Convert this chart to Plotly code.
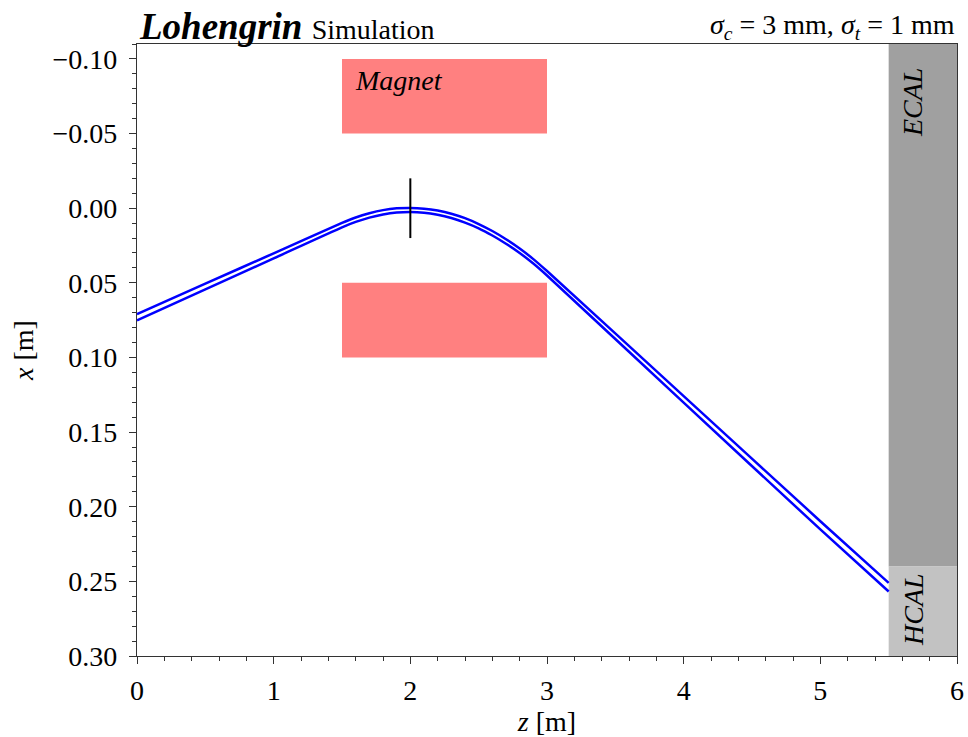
import plotly.graph_objects as go

# ---- data ----
z_traj = [0.0, 0.5, 1.0, 1.5, 1.6, 1.7, 1.8, 1.9, 2.0, 2.1, 2.2, 2.3, 2.4, 2.5, 2.6, 2.7, 2.8, 2.9, 3.0,
          4.0, 5.0, 5.5]
x_traj_a = [0.0710, 0.0506, 0.0302, 0.0098, 0.0062, 0.0034, 0.0013, 0.0001, -0.0002, 0.0003, 0.0016,
            0.0037, 0.0067, 0.0106, 0.0153, 0.0208, 0.0270, 0.0341, 0.0421, 0.1259, 0.2097, 0.2510]
x_traj_b = [0.0752, 0.0544, 0.0336, 0.0128, 0.0092, 0.0063, 0.0042, 0.0029, 0.0025, 0.0030, 0.0044,
            0.0066, 0.0097, 0.0135, 0.0183, 0.0238, 0.0300, 0.0371, 0.0451, 0.1303, 0.2152, 0.2568]

target_z = [2.0, 2.0]
target_x = [-0.02, 0.02]

magnet_z = [1.5, 3.0]
magnet_upper_x = [-0.10, -0.05]
magnet_lower_x = [0.05, 0.10]

calo_z = [5.5, 6.0]
ecal_x = [-0.11, 0.24]
hcal_x = [0.24, 0.30]

z_range = [0, 6]
x_range = [0.30, -0.11]

FONT = "Liberation Serif"
FS = 28

fig = go.Figure()

shapes = []
for xr in (magnet_upper_x, magnet_lower_x):
    shapes.append(dict(type="rect", xref="x", yref="y", x0=magnet_z[0], x1=magnet_z[1],
                       y0=xr[0], y1=xr[1], fillcolor="#FF8080", line=dict(width=0), layer="below"))
shapes.append(dict(type="rect", xref="x", yref="y", x0=calo_z[0], x1=calo_z[1],
                   y0=ecal_x[0], y1=ecal_x[1], fillcolor="#A0A0A0", line=dict(width=0), layer="below"))
shapes.append(dict(type="rect", xref="x", yref="y", x0=calo_z[0], x1=calo_z[1],
                   y0=hcal_x[0], y1=hcal_x[1], fillcolor="#C2C2C2", line=dict(width=0), layer="below"))

for xs in (x_traj_a, x_traj_b):
    fig.add_trace(go.Scatter(x=z_traj, y=xs, mode="lines",
                             line=dict(color="#0000FF", width=2.5, shape="spline", smoothing=0.6),
                             showlegend=False, hoverinfo="skip"))

fig.add_trace(go.Scatter(x=target_z, y=target_x, mode="lines", line=dict(color="black", width=2),
                         showlegend=False, hoverinfo="skip"))

axis_common = dict(
    showgrid=False, zeroline=False, showline=True, linecolor="#333333", linewidth=1.3,
    mirror=True, ticks="outside", ticklen=7, tickwidth=1.3, tickcolor="#333333",
    tickfont=dict(family=FONT, size=FS, color="black"), ticklabeloverflow="allow",
)

fig.update_xaxes(range=z_range, dtick=1, tick0=0, ticklabelstandoff=2,
                 minor=dict(dtick=0.2, ticks="outside", ticklen=4, tickwidth=1, tickcolor="#333333"),
                 title=dict(text="<i>z</i> [m]", font=dict(family=FONT, size=FS, color="black"), standoff=7),
                 **axis_common)
fig.update_yaxes(range=x_range, dtick=0.05, tick0=0, tickformat=".2f", ticklabelstandoff=6,
                 minor=dict(dtick=0.01, ticks="outside", ticklen=4, tickwidth=1, tickcolor="#333333"),
                 title=dict(text="<i>x</i> [m]", font=dict(family=FONT, size=FS, color="black"), standoff=10),
                 **axis_common)

annotations = [
    dict(xref="paper", yref="paper", x=0, y=1.0, xanchor="left", yanchor="bottom", yshift=-5,
         text="<b><i>Lohengrin</i></b> <span style='font-size:28px'>Simulation</span>",
         showarrow=False, font=dict(family=FONT, size=37, color="black")),
    dict(xref="paper", yref="paper", x=1, y=1.0, xanchor="right", yanchor="bottom", yshift=-2,
         text="<i>σ</i><sub><i>c</i></sub> = 3 mm, <i>σ</i><sub><i>t</i></sub> = 1 mm",
         showarrow=False, font=dict(family=FONT, size=FS, color="black")),
    dict(xref="x", yref="y", x=1.58, y=-0.0855, xanchor="left", yanchor="middle",
         text="<i>Magnet</i>", showarrow=False, font=dict(family=FONT, size=FS, color="black")),
    dict(xref="x", yref="y", x=5.68, y=-0.0706, xanchor="center", yanchor="middle", textangle=-90,
         text="<i>ECAL</i>", showarrow=False, font=dict(family=FONT, size=FS, color="black")),
    dict(xref="x", yref="y", x=5.68, y=0.269, xanchor="center", yanchor="middle", textangle=-90,
         text="<i>HCAL</i>", showarrow=False, font=dict(family=FONT, size=FS, color="black")),
]

fig.update_layout(
    width=968, height=737,
    margin=dict(l=137, r=11, t=44, b=81, autoexpand=False),
    paper_bgcolor="white", plot_bgcolor="white",
    shapes=shapes, annotations=annotations,
    font=dict(family=FONT, size=FS, color="black"),
)

# remove the browser's default 8px body margin so the figure fills the window exactly
fig.write_html("out.html", config={"displayModeBar": False},
               post_script="document.body.style.margin='0';document.body.style.overflow='hidden';")
